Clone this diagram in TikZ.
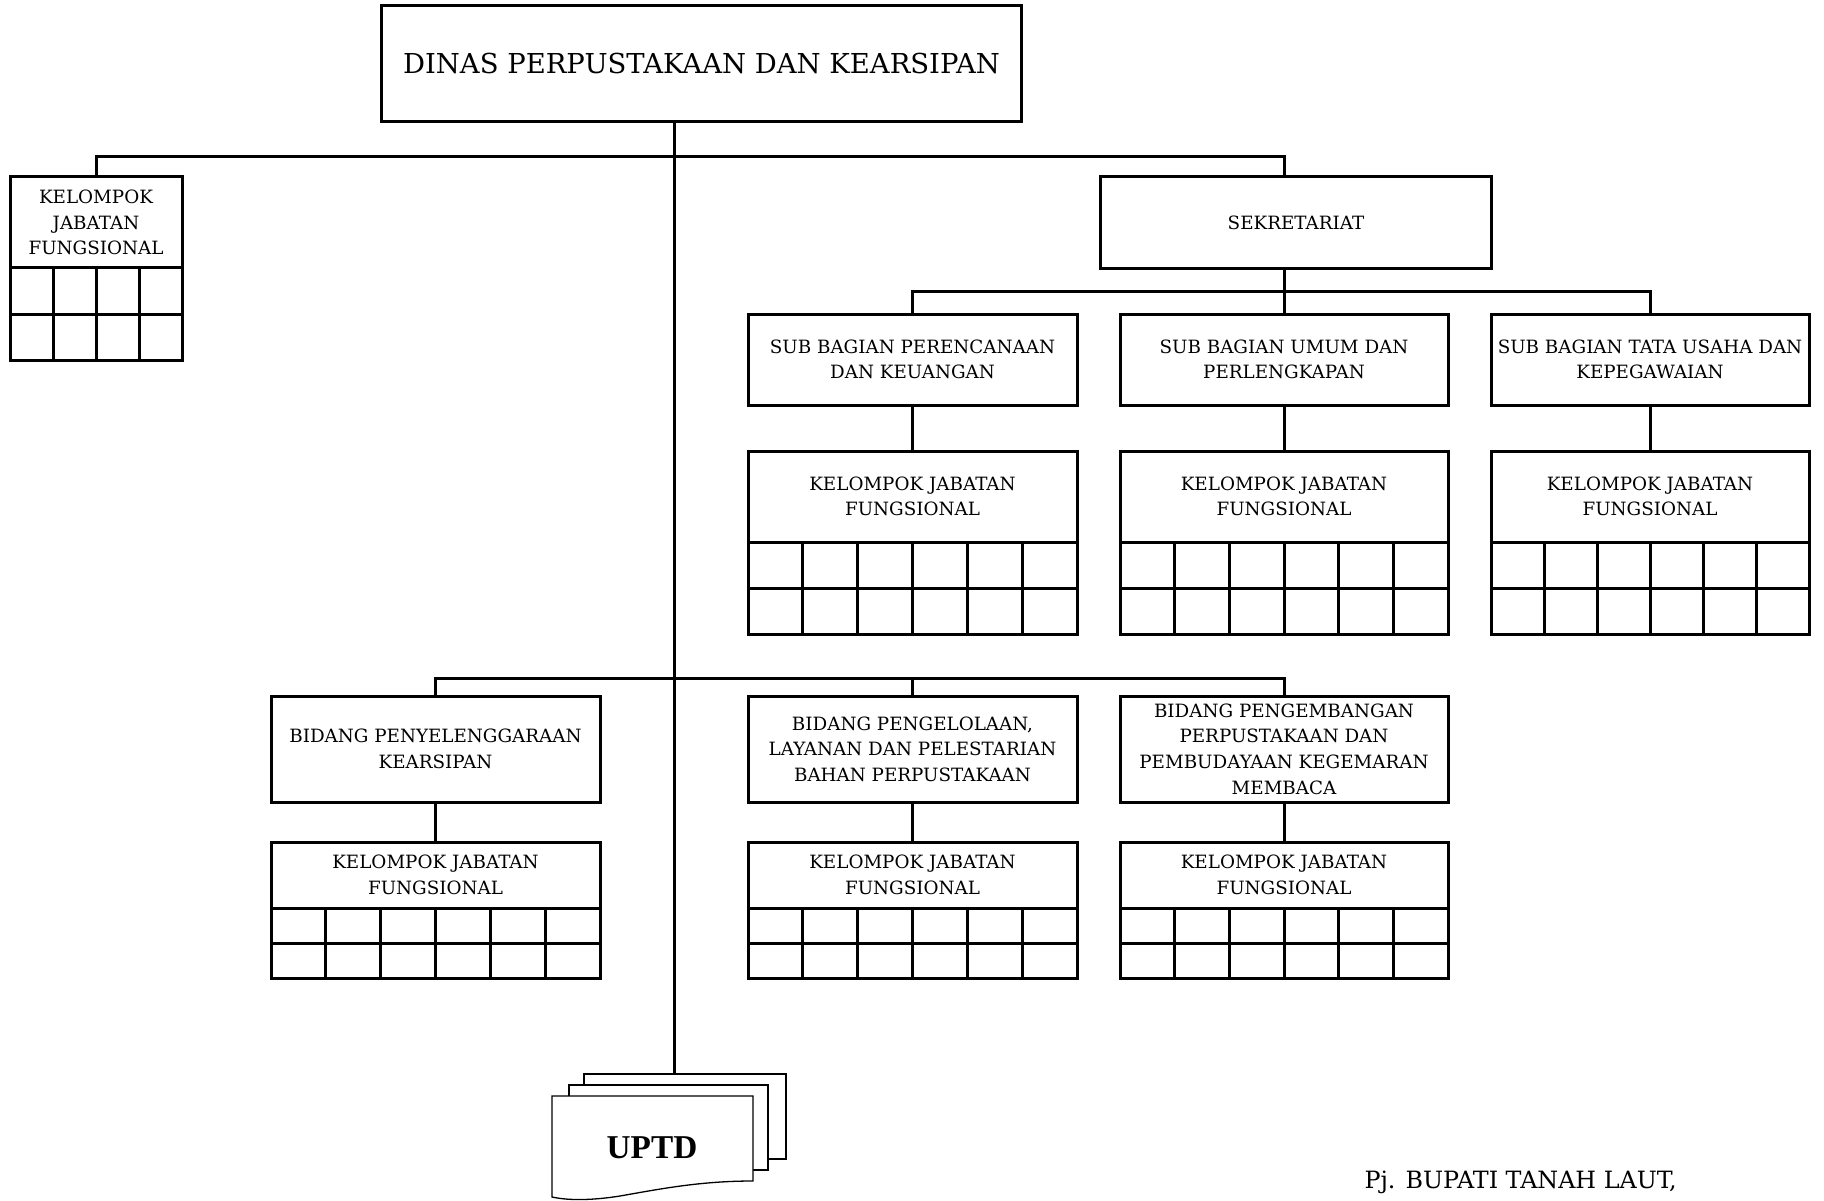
\documentclass[tikz,border=0pt]{standalone}
\usepackage{fontspec}
\setmainfont{DejaVu Serif}
\newfontfamily\uptdfont{Liberation Serif}
\usetikzlibrary{positioning}

% two rows of cells under a node: node, columns, width, row height
\newcommand{\kolom}[4]{%
  \begin{scope}[shift={(#1.south west)}]
    \draw[link] (0,0) rectangle (#3,-2*#4);
    \draw[link] (0,-#4) -- (#3,-#4);
    \pgfmathtruncatemacro\lastc{#2-1}
    \foreach \c in {1,...,\lastc}
      \draw[link] ({\c*#3/#2},0) -- ++(0,-2*#4);
  \end{scope}}

\begin{document}
\begin{tikzpicture}[x=1pt,y=1pt,on grid,
   link/.style={line width=3pt},
   sheet/.style={draw,fill=white,line width=1.3pt},
   unit/.style={draw,line width=3pt,align=center,inner sep=0pt,outer sep=0pt,
     minimum height=91pt,font=\fontsize{18.3}{25.6}\selectfont}]
   \useasboundingbox (0,0) rectangle (1824,-1201);

   \node[unit,minimum width=640pt,minimum height=116pt,
     font=\fontsize{27.45}{32}\selectfont] (dinas) at (701.5,-64)
     {DINAS PERPUSTAKAAN DAN KEARSIPAN};
   \node[unit,minimum width=172pt] (kjf0) at (96,-222.5)
     {KELOMPOK\\JABATAN\\FUNGSIONAL};
   \node[unit,minimum width=391pt,minimum height=92pt] (sek) at (1296,-222.75)
     {SEKRETARIAT};

   \node[unit,minimum width=329pt] (subA) at (912.5,-359.5)
     {SUB BAGIAN PERENCANAAN\\DAN KEUANGAN};
   \node[unit,minimum width=328pt] (subB) [right=371.5pt of subA]
     {SUB BAGIAN UMUM DAN\\PERLENGKAPAN};
   \node[unit,minimum width=318pt] (subC) [right=366pt of subB]
     {SUB BAGIAN TATA USAHA DAN\\KEPEGAWAIAN};
   \node[unit,minimum width=329pt] (kjfA) [below=137pt of subA]
     {KELOMPOK JABATAN\\FUNGSIONAL};
   \node[unit,minimum width=328pt] (kjfB) [below=137pt of subB]
     {KELOMPOK JABATAN\\FUNGSIONAL};
   \node[unit,minimum width=318pt] (kjfC) [below=137pt of subC]
     {KELOMPOK JABATAN\\FUNGSIONAL};

   \node[unit,minimum width=329pt,minimum height=106pt] (bidD) at (435.5,-749)
     {BIDANG PENYELENGGARAAN\\KEARSIPAN};
   \node[unit,minimum width=329pt,minimum height=106pt] (bidE) [right=477pt of bidD]
     {BIDANG PENGELOLAAN,\\LAYANAN DAN PELESTARIAN\\BAHAN PERPUSTAKAAN};
   \node[unit,minimum width=328pt,minimum height=106pt] (bidF) [right=371.5pt of bidE]
     {BIDANG PENGEMBANGAN\\PERPUSTAKAAN DAN\\PEMBUDAYAAN KEGEMARAN\\MEMBACA};
   \node[unit,minimum width=329pt,minimum height=66pt] (kjfD) [below=126pt of bidD]
     {KELOMPOK JABATAN\\FUNGSIONAL};
   \node[unit,minimum width=329pt,minimum height=66pt] (kjfE) [below=126pt of bidE]
     {KELOMPOK JABATAN\\FUNGSIONAL};
   \node[unit,minimum width=328pt,minimum height=66pt] (kjfF) [below=126pt of bidF]
     {KELOMPOK JABATAN\\FUNGSIONAL};

   \kolom{kjf0}{4}{172}{46}
   \kolom{kjfA}{6}{329}{46}
   \kolom{kjfB}{6}{328}{46}
   \kolom{kjfC}{6}{318}{46}
   \kolom{kjfD}{6}{329}{35}
   \kolom{kjfE}{6}{329}{35}
   \kolom{kjfF}{6}{328}{35}

   % UPTD sheets
   \coordinate (uptdtop) at (674,-1074);
   \filldraw[sheet] (584,-1074) rectangle (786,-1159);
   \filldraw[sheet] (569,-1085) rectangle (768,-1170);
   \filldraw[sheet] (552,-1096) -- (753,-1096) -- (753,-1181)
     .. controls (700,-1181) and (660,-1189) .. (620,-1196)
     .. controls (595,-1200) and (570,-1201) .. (552,-1197) -- cycle;
   \node[font=\uptdfont\bfseries\fontsize{33.3}{40}\selectfont] (uptd) at (652,-1148) {UPTD};

   \node[anchor=base west,font=\fontsize{23.8}{28}\selectfont] (pj) at (1361,-1188)
     {Pj. BUPATI TANAH LAUT,};

   % connectors
   \draw[link] (dinas.south -| uptdtop) -- (uptdtop);
   \draw[link] (kjf0.north) -- ++(0,20) -| (sek.north -| subB.north);
   \draw[link] (sek.south -| subB.north) -- (subB.north);
   \draw[link] (subA.north) -- ++(0,23) -| (subC.north);
   \draw[link] (bidD.north) -- ++(0,18) -| (bidF.north);
   \draw[link] (bidE.north) -- ++(0,18);
   \path[link]
    (subA) edge (kjfA)
    (subB) edge (kjfB)
    (subC) edge (kjfC)
    (bidD) edge (kjfD)
    (bidE) edge (kjfE)
    (bidF) edge (kjfF);
\end{tikzpicture}
\end{document}
